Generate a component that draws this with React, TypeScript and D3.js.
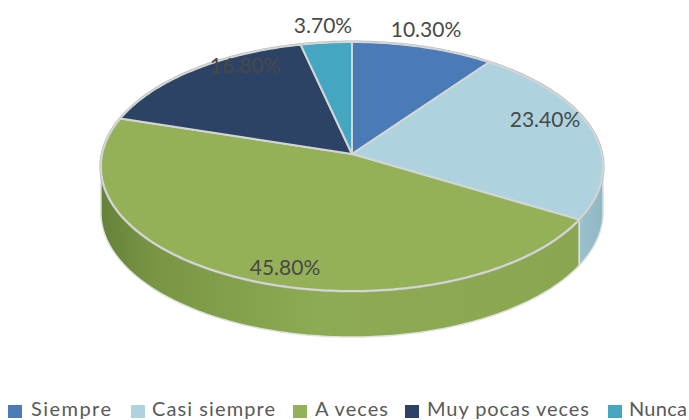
import React from "react"
import { pie, line, range, scaleLinear } from "d3"

// valores de la encuesta, en %
const categories = ["Siempre", "Casi siempre", "A veces", "Muy pocas veces", "Nunca"]
const values = [10.3, 23.4, 45.8, 16.8, 3.7]
const labels = ["10.30%", "23.40%", "45.80%", "16.80%", "3.70%"]
const colors = ["#4a7bb6", "#aed3df", "#94b158", "#2c4366", "#45a6c1"]

const labelPos = [[426, 30], [545, 120], [285, 268], [245, 66], [323, 26]]
const legendX = [[8, 31, 80], [131, 152, 123], [293, 315, 73], [405, 427, 162], [608, 629, 58]]

const width = 689
const height = 420
const depth = 46
const persp = 0.12 // el frente del disco se ve mas grande que el fondo

// coordenadas normalizadas del disco -> pixeles
const sx = scaleLinear().domain([-1, 1]).range([101, 603])
const sy = scaleLinear().domain([-1, 1]).range([291, 42])

function project(a: number): [number, number] {
  const s = 1 / (1 + persp * Math.cos(a))
  const x = (Math.sin(a) * s) / 1.007
  const y = (Math.cos(a) * s + 0.1215) / 1.0145
  return [sx(x), sy(y)]
}

function arcPoints(a0: number, a1: number): [number, number][] {
  const n = Math.max(2, Math.ceil((a1 - a0) * 60))
  return range(n + 1).map((i) => project(a0 + ((a1 - a0) * i) / n))
}

const path = line()
const center: [number, number] = [sx(0), sy(0.1)]
const slices = pie<number>().sort(null)(values)

const frontStart = Math.PI / 2 + Math.asin(persp)
const frontEnd = (3 * Math.PI) / 2 - Math.asin(persp)

function wall(a0: number, a1: number) {
  const s = Math.max(a0, frontStart)
  const e = Math.min(a1, frontEnd)
  if (e <= s) return null
  const top = arcPoints(s, e)
  const bottom = top.map(([x, y]) => [x, y + depth] as [number, number]).reverse()
  return path([...top, ...bottom]) + "Z"
}

const wallFill: Record<number, string> = { 1: "url(#wallBlue)", 2: "url(#wallGreen)" }

export default function App() {
  return (
    <svg width={width} height={height} style={{ position: "absolute", left: 0, top: 0 }} fontFamily="Lato, sans-serif">
      <defs>
        <linearGradient id="wallGreen" gradientUnits="userSpaceOnUse" x1={101} x2={578} y1={0} y2={0}>
          <stop offset="0" stopColor="#66823a" />
          <stop offset="0.12" stopColor="#7a9645" />
          <stop offset="0.45" stopColor="#8dab52" />
          <stop offset="1" stopColor="#8ba650" />
        </linearGradient>
        <linearGradient id="wallBlue" gradientUnits="userSpaceOnUse" x1={575} x2={603} y1={0} y2={0}>
          <stop offset="0" stopColor="#9fc3d0" />
          <stop offset="1" stopColor="#90b7c5" />
        </linearGradient>
      </defs>

      {slices.map((d, i) => {
        const w = wall(d.startAngle, d.endAngle)
        if (!w) return null
        return <path key={i} d={w} fill={wallFill[i] ?? colors[i]} stroke="#dfe3e0" strokeWidth={1.5} />
      })}

      <path d={path(arcPoints(0, Math.PI * 2)) + "Z"} fill="none" stroke="#b5b5b5" strokeWidth={3} />

      {slices.map((d, i) => (
        <path
          key={i}
          d={path([center, ...arcPoints(d.startAngle, d.endAngle)]) + "Z"}
          fill={colors[i]}
          stroke="#d4d6d6"
          strokeWidth={2}
          strokeLinejoin="round"
        />
      ))}

      {labels.map((t, i) => (
        <text key={t} x={labelPos[i][0]} y={labelPos[i][1] + 7} textAnchor="middle" fontSize={21} fill="#484848">
          {t}
        </text>
      ))}

      {categories.map((c, i) => (
        <g key={c}>
          <rect x={legendX[i][0]} y={405} width={14} height={13} fill={colors[i]} />
          <text x={legendX[i][1]} y={416} fontSize={20} fill="#595959" textLength={legendX[i][2]} lengthAdjust="spacing">
            {c}
          </text>
        </g>
      ))}
    </svg>
  )
}
